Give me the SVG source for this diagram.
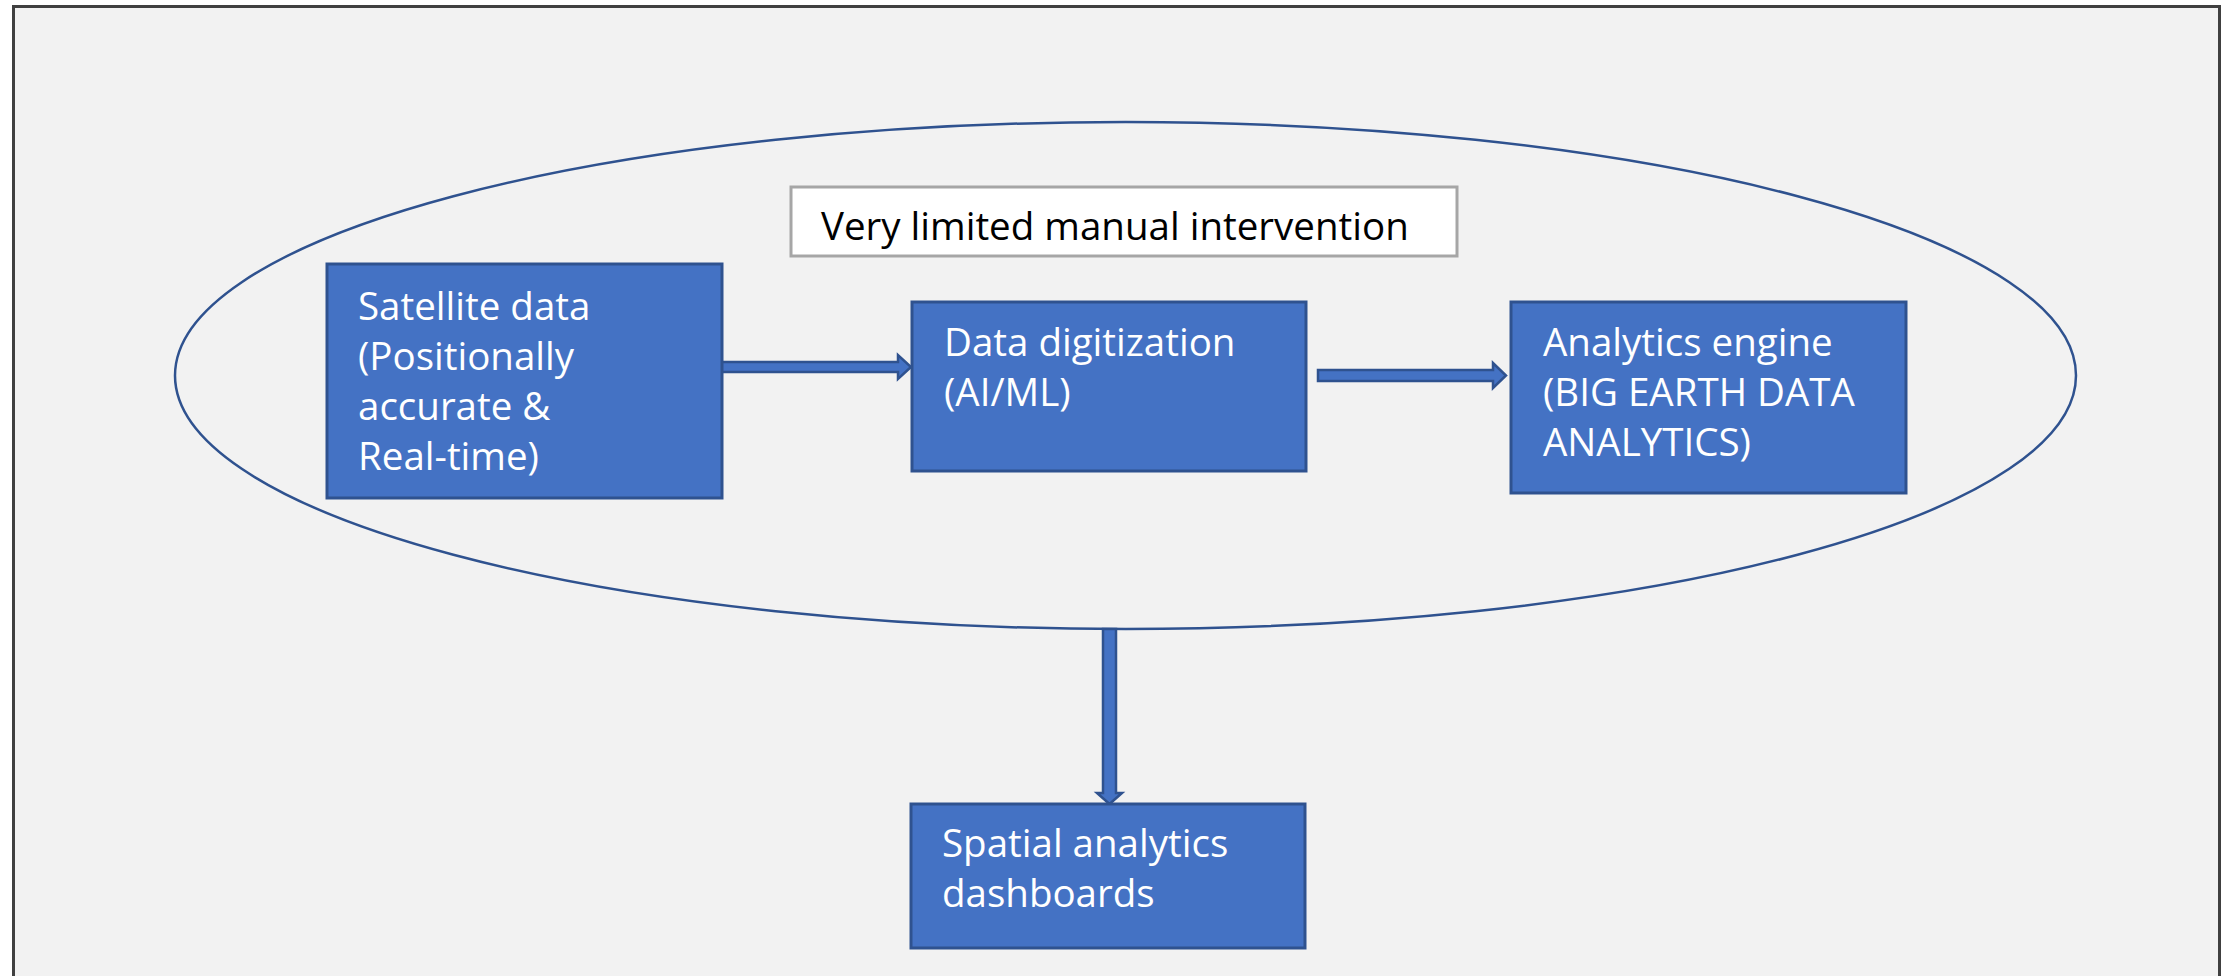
<svg xmlns="http://www.w3.org/2000/svg" width="2226" height="976" viewBox="0 0 2226 976">
<style>
.box{fill:#4472c4;stroke:#2f528f;stroke-width:3}
.lbl{font-family:"Open Sans","Liberation Sans",sans-serif;font-size:38.5px;fill:#ffffff}
.arrow{fill:#4472c4;stroke:#2f528f;stroke-width:2.5;stroke-linejoin:miter}
</style>
<rect x="0" y="0" width="2226" height="976" fill="#ffffff"/>
<rect x="13.5" y="6.5" width="2206" height="975" fill="#f2f2f2" stroke="#404040" stroke-width="3"/>
<g id="boundary">
<ellipse cx="1125.5" cy="375.5" rx="950.5" ry="253.5" fill="none" stroke="#2f528f" stroke-width="2.5"/>
</g>
<g id="note">
<rect x="791" y="187" width="666" height="69" fill="#ffffff" stroke="#a6a6a6" stroke-width="3"/>
<text x="821" y="240" font-family="Open Sans, Liberation Sans, sans-serif" font-size="38.5" fill="#000000">Very limited manual intervention</text>
</g>
<g id="connectors">
<path class="arrow" d="M721,362 L898,362 L898,355 L911,367 L898,379 L898,372 L721,372 Z"/>
<path class="arrow" d="M1318,370 L1493,370 L1493,363 L1506,375.5 L1493,388 L1493,381 L1318,381 Z"/>
<path class="arrow" d="M1103,629 L1116,629 L1116,793 L1122,793 L1109.5,804 L1097,793 L1103,793 Z"/>
</g>
<g id="satellite">
<rect class="box" x="327" y="264" width="395" height="234"/>
<text class="lbl" x="358" y="320">Satellite data</text>
<text class="lbl" x="358" y="370">(Positionally</text>
<text class="lbl" x="358" y="420">accurate &amp;</text>
<text class="lbl" x="358" y="470">Real-time)</text>
</g>
<g id="digitization">
<rect class="box" x="912" y="302" width="394" height="169"/>
<text class="lbl" x="944" y="356">Data digitization</text>
<text class="lbl" x="944" y="406">(AI/ML)</text>
</g>
<g id="analytics">
<rect class="box" x="1511" y="302" width="395" height="191"/>
<text class="lbl" x="1543" y="356">Analytics engine</text>
<text class="lbl" x="1543" y="406">(BIG EARTH DATA</text>
<text class="lbl" x="1543" y="456">ANALYTICS)</text>
</g>
<g id="dashboards">
<rect class="box" x="911" y="804" width="394" height="144"/>
<text class="lbl" x="942" y="857">Spatial analytics</text>
<text class="lbl" x="942" y="907">dashboards</text>
</g>
</svg>
